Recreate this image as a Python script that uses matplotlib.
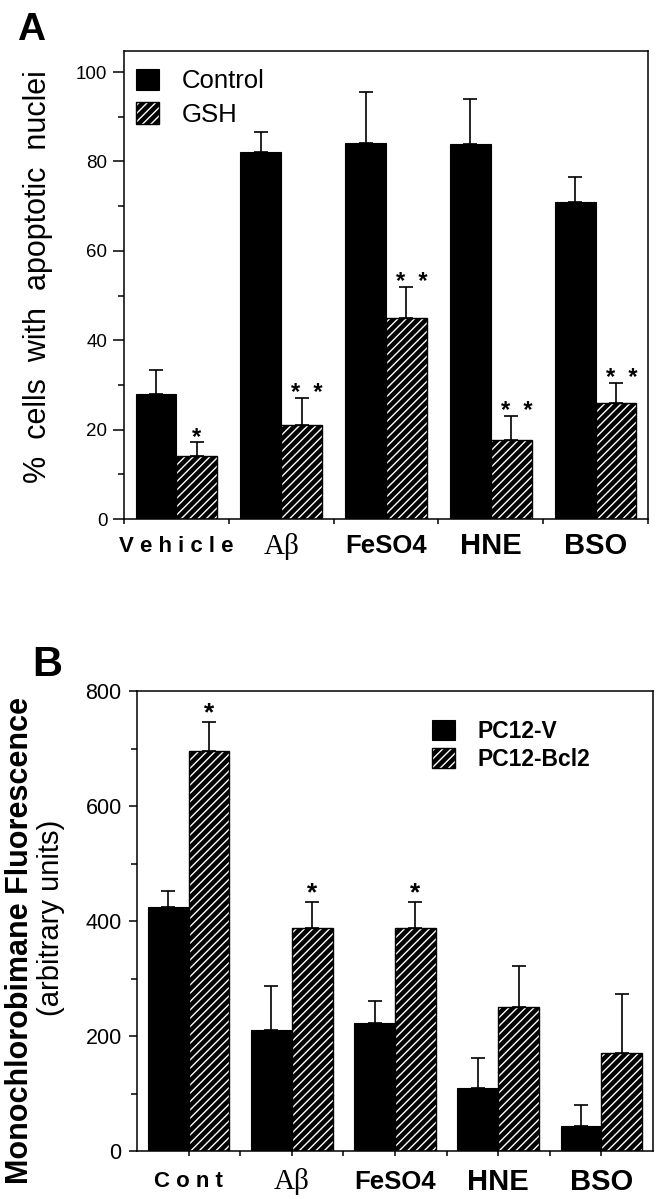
import numpy as np
import matplotlib
matplotlib.use('Agg')
import matplotlib.pyplot as plt

plt.rcParams['font.family'] = ['Liberation Sans', 'DejaVu Sans']
plt.rcParams['hatch.linewidth'] = 1.0
plt.rcParams['axes.linewidth'] = 1.1

# panel A data (% cells with apoptotic nuclei)
cats_a = ['V e h i c l e', 'Aβ', 'FeSO4', 'HNE', 'BSO']
control = [28, 82, 84.2, 84, 71]
control_err = [5.4, 4.5, 11.4, 10, 5.6]
gsh = [14, 21, 45, 17.7, 26]
gsh_err = [3.3, 6, 6.8, 5.3, 4.5]
stars_a = ['*', '*  *', '*  *', '*  *', '*  *']

# panel B data (monochlorobimane fluorescence)
cats_b = ['C o n t', 'Aβ', 'FeSO4', 'HNE', 'BSO']
pc12v = [424, 210, 222, 109, 44]
pc12v_err = [28, 77, 39, 52, 36]
bcl2 = [696, 388, 388, 250, 171]
bcl2_err = [50, 45, 45, 72, 102]
stars_b = ['*', '*', '*', '', '']

# fonts for the category labels
label_fonts = {
    'V e h i c l e': dict(family=['Liberation Sans'], weight='bold', size=16),
    'C o n t': dict(family=['Liberation Sans'], weight='bold', size=16),
    'Aβ': dict(family=['Liberation Serif', 'DejaVu Serif'], weight='normal', size=21),
    'FeSO4': dict(family=['Liberation Sans'], weight='bold', size=18.5),
    'HNE': dict(family=['Liberation Sans'], weight='bold', size=21),
    'BSO': dict(family=['Liberation Sans'], weight='bold', size=21),
}

W, H = 661, 1199
fig = plt.figure(figsize=(W / 100, H / 100), dpi=100)


def px_axes(left, top, right, bottom):
    return fig.add_axes([left / W, 1 - bottom / H, (right - left) / W, (bottom - top) / H])


def draw_pair(ax, x, v1, e1, v2, e2, w):
    b1 = ax.bar(x - w / 2, v1, w, color='black', edgecolor='black', linewidth=0.8, zorder=2)
    # hatched bars: black fill with white stripes, then a black outline
    b2 = ax.bar(x + w / 2, v2, w, facecolor='black', edgecolor='white', hatch='////',
                linewidth=0, zorder=2)
    b3 = ax.bar(x + w / 2, v2, w, fill=False, edgecolor='black', linewidth=1.0, zorder=2)
    ax.errorbar(x - w / 2, v1, yerr=[np.zeros(len(v1)), e1], fmt='none', ecolor='black',
                elinewidth=1.2, capsize=5, capthick=1.2, zorder=3)
    ax.errorbar(x + w / 2, v2, yerr=[np.zeros(len(v2)), e2], fmt='none', ecolor='black',
                elinewidth=1.2, capsize=5, capthick=1.2, zorder=3)
    return b1, (b2, b3)


# ---------------- panel A ----------------
axA = px_axes(124, 51, 648, 519)
xa = np.arange(len(cats_a)) + 0.5
wa = 0.39
hA1, hA2 = draw_pair(axA, xa, np.array(control), np.array(control_err),
                     np.array(gsh), np.array(gsh_err), wa)
axA.set_xlim(0, 5)
axA.set_ylim(0, 104.7)
axA.set_xticks(np.arange(0, 6))
axA.set_xticklabels([])
axA.set_yticks([0, 20, 40, 60, 80, 100])
axA.set_yticks([10, 30, 50, 70, 90], minor=True)
axA.tick_params(axis='y', which='major', length=8, width=1.1, labelsize=13.5, pad=4)
axA.tick_params(axis='y', which='minor', length=4, width=1.1)
axA.tick_params(axis='x', which='major', length=3.5, width=1.1)

for i, c in enumerate(cats_a):
    axA.text(xa[i], -0.058, c, transform=axA.get_xaxis_transform(), ha='center', va='center',
             **label_fonts[c])
for i, s in enumerate(stars_a):
    axA.text(xa[i] + wa / 2 + (0.05 if len(s) > 1 else 0), gsh[i] + gsh_err[i] + 1.0, s,
             ha='center', va='center', fontsize=17, fontweight='bold')

axA.legend([hA1, hA2], ['Control', 'GSH'], loc='upper left', bbox_to_anchor=(0.022, 0.962),
           frameon=False, fontsize=18.5, handlelength=0.9, handleheight=0.9,
           handletextpad=0.9, labelspacing=0.35, borderpad=0, borderaxespad=0)

fig.text(38 / W, 1 - 277 / H, '%  cells  with  apoptotic  nuclei', rotation=90,
         ha='center', va='center', fontsize=22)
fig.text(17 / W, 1 - 40 / H, 'A', fontsize=28, fontweight='bold', ha='left', va='baseline')

# ---------------- panel B ----------------
axB = px_axes(137, 691, 653, 1151)
xb = np.arange(len(cats_b))
wb = 0.396
hB1, hB2 = draw_pair(axB, xb, np.array(pc12v), np.array(pc12v_err),
                     np.array(bcl2), np.array(bcl2_err), wb)
axB.set_xlim(-0.5, 4.5)
axB.set_ylim(0, 800)
axB.set_xticks(xb)
axB.set_xticklabels([])
axB.set_xticks(xb[:-1] + 0.5, minor=True)
axB.set_yticks([0, 200, 400, 600, 800])
axB.set_yticks([100, 300, 500, 700], minor=True)
axB.tick_params(axis='y', which='major', length=6, width=1.1, labelsize=15.5, pad=5)
axB.tick_params(axis='y', which='minor', length=4, width=1.1)
axB.tick_params(axis='x', which='both', length=3.5, width=1.1)

for i, c in enumerate(cats_b):
    axB.text(xb[i], -0.067, c, transform=axB.get_xaxis_transform(), ha='center', va='center',
             **label_fonts[c])
for i, s in enumerate(stars_b):
    if s:
        axB.text(xb[i] + wb / 2, bcl2[i] + bcl2_err[i] + 16, s,
                 ha='center', va='center', fontsize=19, fontweight='bold')

axB.legend([hB1, hB2], ['PC12-V', 'PC12-Bcl2'], loc='upper left', bbox_to_anchor=(0.572, 0.937),
           frameon=False, prop={'weight': 'bold', 'size': 16.5},
           handlelength=1.0, handleheight=1.0, handletextpad=1.0, labelspacing=0.2,
           borderpad=0, borderaxespad=0)

fig.text(20 / W, 1 - 940 / H, 'Monochlorobimane Fluorescence', rotation=90,
         ha='center', va='center', fontsize=22, fontweight='bold')
fig.text(51 / W, 1 - 918 / H, '(arbitrary units)', rotation=90,
         ha='center', va='center', fontsize=21)
fig.text(32 / W, 1 - 676 / H, 'B', fontsize=30, fontweight='bold', ha='left', va='baseline')

fig.savefig('out.png', dpi=100)
